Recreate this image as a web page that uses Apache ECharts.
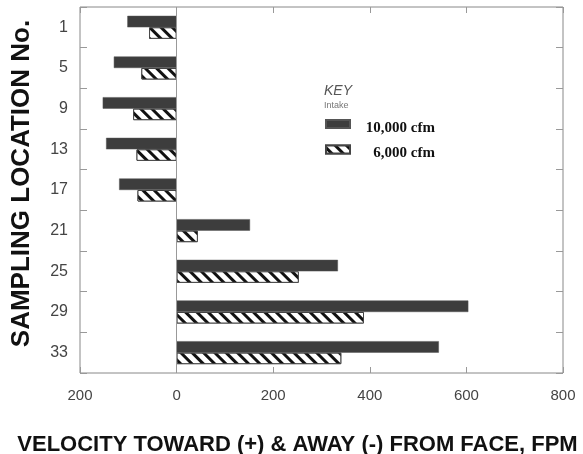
<!DOCTYPE html>
<html>
<head>
<meta charset="utf-8">
<script src="https://cdn.jsdelivr.net/npm/echarts@6/dist/echarts.min.js"></script>
<style>html,body{margin:0;padding:0;background:#fff}#c{width:583px;height:454px}</style>
</head>
<body>
<div id="c"></div>
<script>
var categories = ['1', '5', '9', '13', '17', '21', '25', '29', '33'];
var seriesNames = ['10,000 cfm', '6,000 cfm'];
var intake10000 = [-102, -130, -153, -146, -119, 152, 334, 604, 543];
var intake6000 = [-57, -73, -90, -83, -81, 44, 253, 388, 341];
var xTicks = { min: -200, max: 800, interval: 200 };

var chart = echarts.init(document.getElementById('c'), null, { renderer: 'canvas' });
var sans = "'Liberation Sans', Arial, sans-serif";
var hatch = {
  color: '#111',
  backgroundColor: '#fff',
  dashArrayX: [1, 0],
  dashArrayY: [3, 4.5],
  rotation: Math.PI / 4,
  symbol: 'rect',
  symbolSize: 1
};
var option = {
  animation: false,
  backgroundColor: '#fff',
  title: {
    text: 'KEY', subtext: 'Intake',
    left: 324, top: 84, padding: 0, itemGap: 3,
    textStyle: { fontFamily: sans, fontStyle: 'italic', fontWeight: 'normal', fontSize: 14, color: '#555' },
    subtextStyle: { fontFamily: sans, fontSize: 9, color: '#777' }
  },
  legend: {
    orient: 'vertical', left: 325, top: 119, padding: 0,
    itemWidth: 24, itemHeight: 8, itemGap: 9, icon: 'rect',
    data: seriesNames,
    formatter: function (n) { return '{a|' + n + '}'; },
    textStyle: {
      rich: { a: { width: 80, align: 'right', fontFamily: "'Liberation Serif', 'Times New Roman', serif", fontWeight: 'bold', fontSize: 15, color: '#111', padding: [8, 0, 0, 0] } }
    }
  },
  grid: { left: 80, right: 20, top: 7, bottom: 81, show: true, borderColor: '#888', borderWidth: 1, backgroundColor: 'transparent', containLabel: false, outerBoundsMode: 'none' },
  xAxis: [{
    type: 'value', min: xTicks.min, max: xTicks.max, interval: xTicks.interval, position: 'bottom',
    axisLine: { show: false },
    axisTick: { show: true, inside: true, length: 6, lineStyle: { color: '#999' } },
    splitLine: { show: false },
    axisLabel: { margin: 15, fontFamily: sans, fontSize: 15, color: '#444', formatter: function (v) { return String(Math.abs(v)); } },
    name: 'VELOCITY TOWARD (+) & AWAY (-) FROM FACE, FPM', nameLocation: 'middle', nameGap: 61,
    nameTextStyle: { fontFamily: sans, fontWeight: 'bold', fontSize: 22, color: '#111', padding: [0, 48, 0, 0] }
  }, {
    type: 'value', min: xTicks.min, max: xTicks.max, interval: xTicks.interval, position: 'top',
    axisLine: { show: false },
    axisTick: { show: true, inside: true, length: 6, lineStyle: { color: '#999' } },
    splitLine: { show: false }, axisLabel: { show: false }
  }],
  yAxis: [{
    type: 'category', data: categories, inverse: true, position: 'left',
    axisLine: { show: false, onZero: false },
    axisTick: { show: true, inside: true, length: 7, lineStyle: { color: '#999' } },
    axisLabel: { margin: 12, fontFamily: sans, fontSize: 16, color: '#444' },
    name: 'SAMPLING LOCATION No.', nameLocation: 'middle', nameGap: 45, nameRotate: 90,
    nameTextStyle: { fontFamily: sans, fontWeight: 'bold', fontSize: 26, color: '#111', padding: [0, 0, 0, 13] }
  }, {
    type: 'category', data: categories, inverse: true, position: 'right',
    axisLine: { show: false, onZero: false },
    axisTick: { show: true, inside: true, length: 7, lineStyle: { color: '#999' } },
    axisLabel: { show: false }
  }],
  series: [{
    name: seriesNames[0], type: 'bar', data: intake10000,
    barWidth: 11.5, barGap: '0%',
    itemStyle: { color: '#3d3d3d', borderColor: '#555', borderWidth: 0.5 },
    markLine: { silent: true, symbol: 'none', label: { show: false }, lineStyle: { color: '#999', type: 'solid', width: 1 }, data: [{ xAxis: 0 }], animation: false }
  }, {
    name: seriesNames[1], type: 'bar', data: intake6000,
    barWidth: 11.5, barGap: '0%',
    itemStyle: { color: '#fff', borderColor: '#444', borderWidth: 1, decal: hatch }
  }]
};
chart.setOption(option);
</script>
</body>
</html>
